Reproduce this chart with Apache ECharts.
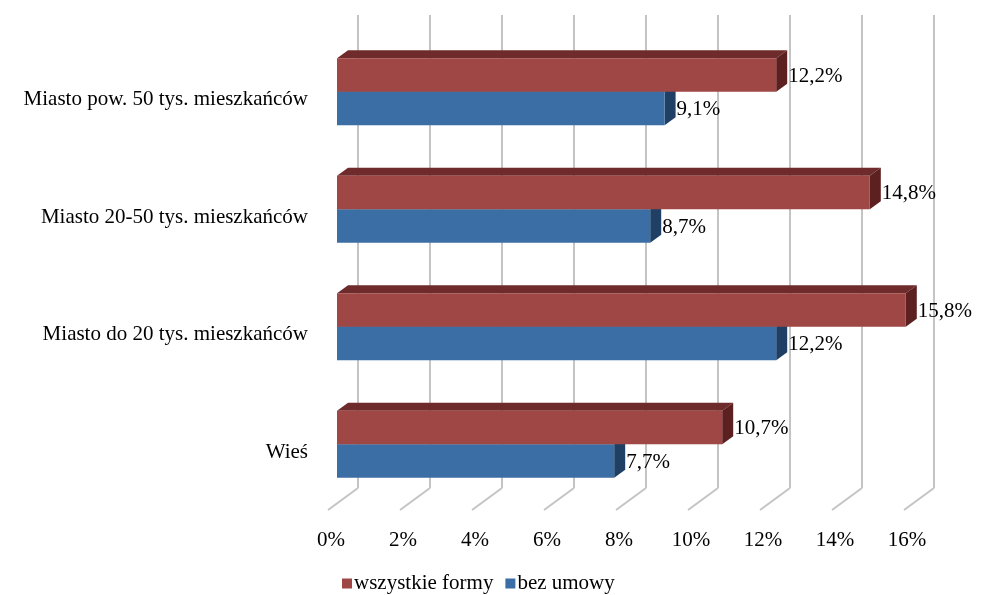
<!DOCTYPE html>
<html>
<head>
<meta charset="utf-8">
<script src="https://cdn.jsdelivr.net/npm/echarts@6/dist/echarts.min.js"></script>
<style>
html,body{margin:0;padding:0;background:#fff;}
#c{width:981px;height:595px;}
</style>
</head>
<body>
<div id="c"></div>
<script>
const categories = ['Miasto pow. 50 tys. mieszkańców', 'Miasto 20-50 tys. mieszkańców', 'Miasto do 20 tys. mieszkańców', 'Wieś'];
const seriesNames = ['wszystkie formy', 'bez umowy'];
const allForms = [12.2, 14.8, 15.8, 10.7];
const noContract = [9.1, 8.7, 12.2, 7.7];
const xTicks = [0, 2, 4, 6, 8, 10, 12, 14, 16];

const FONT = '"Liberation Serif", "Times New Roman", serif';
const DX = 11, DY = -8;
const colors = {
  red: { front: '#9e4745', top: '#6f2b2b', side: '#5c2020' },
  blue: { front: '#3b6ea4', top: '#2b5580', side: '#1f4064' }
};

function fmt(v) { return v.toFixed(1).replace('.', ',') + '%'; }

function barRenderer(pos, col) {
  return function (params, api) {
    const v = api.value(0);
    const cat = api.value(1);
    const bandH = api.size([0, 1])[1];
    const h = bandH * 0.285;
    const c = api.coord([0, cat]);
    const x0 = c[0];
    const x1 = api.coord([v, cat])[0];
    const y = pos === 0 ? c[1] - h : c[1];
    return {
      type: 'group',
      children: [
        { type: 'polygon', shape: { points: [[x0, y], [x0 + DX, y + DY], [x1 + DX, y + DY], [x1, y]] }, style: { fill: col.top } },
        { type: 'polygon', shape: { points: [[x1, y], [x1 + DX, y + DY], [x1 + DX, y + DY + h], [x1, y + h]] }, style: { fill: col.side } },
        { type: 'rect', shape: { x: x0, y: y, width: x1 - x0, height: h }, style: { fill: col.front } },
        { type: 'text', style: { text: fmt(v), x: x1 + DX + 1, y: y + h / 2 + 1, align: 'left', verticalAlign: 'middle', font: '21px ' + FONT, fill: '#000' } }
      ]
    };
  };
}

const chart = echarts.init(document.getElementById('c'), null, { renderer: 'canvas' });
chart.setOption({
  animation: false,
  backgroundColor: '#fff',
  grid: [
    { left: 337, right: 68, top: 33, bottom: 92 },
    { left: 358, right: 47, top: 15, bottom: 107 }
  ],
  xAxis: [
    { gridIndex: 0, type: 'value', min: 0, max: 16, interval: 2,
      axisLine: { show: false }, axisTick: { show: false }, splitLine: { show: false },
      axisLabel: { formatter: v => v + '%', margin: 27, padding: [0, 12, 0, 0], color: '#000', fontFamily: FONT, fontSize: 21 } },
    { gridIndex: 1, type: 'value', min: 0, max: 16, interval: 2,
      axisLine: { show: false }, axisTick: { show: false }, axisLabel: { show: false },
      splitLine: { show: true, lineStyle: { color: '#c4c4c4', width: 2 } } }
  ],
  yAxis: [
    { gridIndex: 0, type: 'category', data: categories, inverse: true,
      axisLine: { show: false }, axisTick: { show: false },
      axisLabel: { margin: 29, verticalAlign: 'top', lineHeight: 16, color: '#000', fontFamily: FONT, fontSize: 21 } },
    { gridIndex: 1, type: 'value', min: 0, max: 1, show: false }
  ],
  legend: {
    data: seriesNames,
    left: 337, top: 568,
    icon: 'rect', itemWidth: 10, itemHeight: 10, itemGap: 12,
    textStyle: { fontFamily: FONT, fontSize: 21, color: '#000', padding: [0, 0, 0, -3] }
  },
  series: [
    { type: 'custom', name: 'floor', xAxisIndex: 1, yAxisIndex: 1, z: 1, silent: true,
      data: xTicks.map(t => [t, 0]),
      renderItem: function (params, api) {
        const p = api.coord([api.value(0), 0]);
        return { type: 'line', shape: { x1: p[0], y1: p[1], x2: p[0] - 30, y2: p[1] + 22 }, style: { stroke: '#c4c4c4', lineWidth: 2 } };
      } },
    { type: 'custom', name: seriesNames[0], xAxisIndex: 0, yAxisIndex: 0, z: 4,
      itemStyle: { color: colors.red.front },
      encode: { x: 0, y: 1 },
      data: allForms.map((v, i) => [v, i]),
      renderItem: barRenderer(0, colors.red) },
    { type: 'custom', name: seriesNames[1], xAxisIndex: 0, yAxisIndex: 0, z: 3,
      itemStyle: { color: colors.blue.front },
      encode: { x: 0, y: 1 },
      data: noContract.map((v, i) => [v, i]),
      renderItem: barRenderer(1, colors.blue) }
  ]
});
</script>
</body>
</html>
